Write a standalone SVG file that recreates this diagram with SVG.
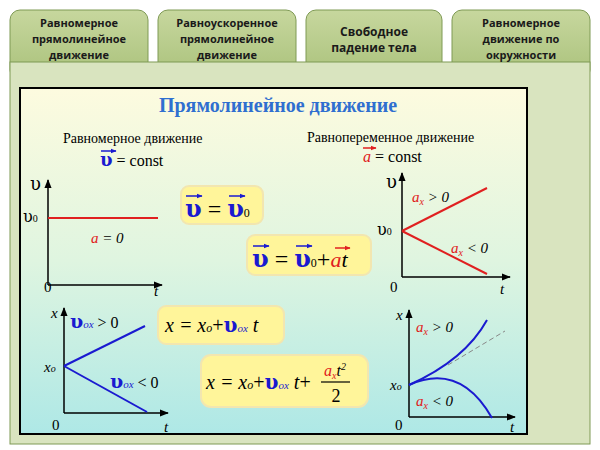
<svg xmlns="http://www.w3.org/2000/svg" width="600" height="450" viewBox="0 0 600 450">
<defs>
<linearGradient id="bg" x1="0" y1="0" x2="0" y2="1"><stop offset="0" stop-color="#fdfbdf"/><stop offset="0.5" stop-color="#dff5e0"/><stop offset="1" stop-color="#aee8e6"/></linearGradient>
<linearGradient id="tab" x1="0" y1="0" x2="0" y2="1"><stop offset="0" stop-color="#c7d79e"/><stop offset="1" stop-color="#a9c17a"/></linearGradient>
<marker id="ar" viewBox="0 0 10 10" refX="9" refY="5" markerWidth="6" markerHeight="6" orient="auto"><path d="M0,1 L10,5 L0,9 z" fill="#000"/></marker>
<marker id="va" viewBox="0 0 10 10" refX="9" refY="5" markerWidth="4" markerHeight="4" orient="auto"><path d="M0,1 L10,5 L0,9 z" fill="#1a1ad0"/></marker>
<marker id="ra" viewBox="0 0 10 10" refX="9" refY="5" markerWidth="4" markerHeight="4" orient="auto"><path d="M0,1 L10,5 L0,9 z" fill="#e02020"/></marker>
</defs>
<style>
.tabt{font-family:"Open Sans","Liberation Sans",sans-serif;font-size:11px;font-weight:bold;fill:#1a1a1a;text-anchor:middle}
.s{font-family:"Liberation Serif","DejaVu Serif",serif;fill:#000}
.u{font-family:"DejaVu Serif",serif;font-weight:bold;font-style:normal}
.v{fill:#1a1ad0}.r{fill:#e02020}
.i{font-style:italic}
.ax{stroke:#000;stroke-width:1.5;fill:none;marker-end:url(#ar)}
.box{fill:#fff59a;stroke:#f2e6b0;stroke-width:2}
</style>
<rect width="600" height="450" fill="#fff"/>
<g id="tabs">
<rect x="10" y="10" width="138" height="70" rx="10" fill="url(#tab)" stroke="#7f9a55"/>
<rect x="158" y="10" width="138" height="70" rx="10" fill="url(#tab)" stroke="#7f9a55"/>
<rect x="306" y="10" width="136" height="70" rx="10" fill="url(#tab)" stroke="#7f9a55"/>
<rect x="452" y="10" width="138" height="70" rx="10" fill="url(#tab)" stroke="#7f9a55"/>
</g>
<rect id="panel" x="10" y="62" width="580" height="382" fill="#d9e4bf" stroke="#7f9a55"/>
<g class="tabt">
<text x="79" y="27">Равномерное</text><text x="79" y="43">прямолинейное</text><text x="79" y="59">движение</text>
<text x="227" y="27">Равноускоренное</text><text x="227" y="43">прямолинейное</text><text x="227" y="59">движение</text>
<text x="374" y="36" style="font-size:12px">Свободное</text><text x="374" y="52" style="font-size:12px">падение тела</text>
<text x="521" y="27">Равномерное</text><text x="521" y="43">движение по</text><text x="521" y="59">окружности</text>
</g>
<rect x="20" y="88" width="507" height="346" fill="url(#bg)" stroke="#000" stroke-width="2"/>
<text class="s" x="278" y="112" text-anchor="middle" font-size="20" font-weight="bold" style="fill:#2f6fd0">Прямолинейное движение</text>
<text class="s" x="63" y="143" font-size="14">Равномерное движение</text>
<text class="s" x="100" y="166" font-size="16"><tspan class="v u" font-size="18">υ</tspan> = const</text>
<line x1="101" y1="151" x2="116" y2="151" stroke="#1a1ad0" stroke-width="1.5" marker-end="url(#va)"/>
<text class="s" x="307" y="142" font-size="14">Равнопеременное движение</text>
<text class="s" x="363" y="162" font-size="16"><tspan class="r i">a</tspan> = const</text>
<line x1="363" y1="148" x2="376" y2="148" stroke="#e02020" stroke-width="1.5" marker-end="url(#ra)"/>
<g id="g1">
<path class="ax" d="M48,285 V180"/><path class="ax" d="M48,285 H162"/>
<text class="s u" x="30" y="190" font-size="18" style="font-weight:normal">υ</text>
<text class="s" x="23" y="222" font-size="16"><tspan class="u" style="font-weight:normal">υ</tspan><tspan font-size="10">0</tspan></text>
<line x1="48" y1="218" x2="158" y2="218" stroke="#e02020" stroke-width="2"/>
<text class="s i" x="91" y="243" font-size="15"><tspan class="r">a</tspan> = 0</text>
<text class="s" x="44" y="292" font-size="15">0</text><text class="s i" x="154" y="296" font-size="15">t</text>
</g>
<g id="f1"><rect x="181" y="186" width="82" height="38" rx="8" class="box"/>
<text class="s" x="185" y="217" font-size="24"><tspan class="v u">υ</tspan> = <tspan class="v u">υ</tspan><tspan font-size="12">0</tspan></text></g>
<g id="f2"><rect x="247" y="235" width="124" height="40" rx="8" class="box"/>
<text class="s" x="252" y="267" font-size="24"><tspan class="v u">υ</tspan> = <tspan class="v u">υ</tspan><tspan font-size="12">0</tspan>+<tspan class="r i" font-size="22">a</tspan><tspan class="i" font-size="22">t</tspan></text></g>
<g id="arrowsf" stroke-width="1.5">
<line x1="186" y1="196" x2="202" y2="196" stroke="#1a1ad0" marker-end="url(#va)"/>
<line x1="229" y1="196" x2="245" y2="196" stroke="#1a1ad0" marker-end="url(#va)"/>
<line x1="253" y1="246" x2="269" y2="246" stroke="#1a1ad0" marker-end="url(#va)"/>
<line x1="296" y1="246" x2="312" y2="246" stroke="#1a1ad0" marker-end="url(#va)"/>
<line x1="335" y1="248" x2="350" y2="248" stroke="#e02020" marker-end="url(#ra)"/>
</g>
<g id="g2">
<path class="ax" d="M402,277 V173"/><path class="ax" d="M402,277 H510"/>
<text class="s u" x="386" y="188" font-size="18" style="font-weight:normal">υ</text>
<text class="s" x="377" y="235" font-size="16"><tspan class="u" style="font-weight:normal">υ</tspan><tspan font-size="10">0</tspan></text>
<line x1="402" y1="231" x2="487" y2="188" stroke="#e02020" stroke-width="2"/>
<line x1="402" y1="231" x2="487" y2="274" stroke="#e02020" stroke-width="2"/>
<text class="s i" x="412" y="202" font-size="15"><tspan class="r">a</tspan><tspan class="r" font-size="10" dy="3">x</tspan><tspan dy="-3"> &gt; 0</tspan></text>
<text class="s i" x="451" y="253" font-size="15"><tspan class="r">a</tspan><tspan class="r" font-size="10" dy="3">x</tspan><tspan dy="-3"> &lt; 0</tspan></text>
<text class="s" x="390" y="292" font-size="15">0</text><text class="s i" x="500" y="294" font-size="15">t</text>
</g>
<g id="g3">
<path class="ax" d="M64,413 V308"/><path class="ax" d="M64,413 H168"/>
<text class="s i" x="51" y="318" font-size="15">x</text>
<text class="s i" x="44" y="372" font-size="15">x<tspan font-size="10">o</tspan></text>
<line x1="64" y1="366" x2="145" y2="326" stroke="#1a1ad0" stroke-width="2"/>
<line x1="64" y1="366" x2="147" y2="412" stroke="#1a1ad0" stroke-width="2"/>
<text class="s" x="70" y="328" font-size="16"><tspan class="v u" font-size="19">υ</tspan><tspan class="v i" font-size="11">ox</tspan> &gt; 0</text>
<text class="s" x="110" y="388" font-size="16"><tspan class="v u" font-size="19">υ</tspan><tspan class="v i" font-size="11">ox</tspan> &lt;  0</text>
<text class="s" x="52" y="430" font-size="15">0</text><text class="s i" x="164" y="432" font-size="15">t</text>
</g>
<g id="f3"><rect x="158" y="306" width="126" height="38" rx="8" class="box"/>
<text class="s i" x="165" y="332" font-size="20">x = x<tspan font-size="12">o</tspan><tspan font-style="normal">+</tspan><tspan class="v u" font-size="20">υ</tspan><tspan class="v" font-size="11">ox</tspan> t</text></g>
<g id="f4"><rect x="201" y="355" width="167" height="52" rx="10" class="box"/>
<text class="s i" x="206" y="389" font-size="20">x = x<tspan font-size="12">o</tspan><tspan font-style="normal">+</tspan><tspan class="v u" font-size="20">υ</tspan><tspan class="v" font-size="11">ox</tspan> t<tspan font-style="normal">+</tspan></text>
<text class="s i" x="335" y="376" font-size="16" text-anchor="middle"><tspan class="r">a</tspan><tspan class="r" font-size="10" dy="3">x</tspan><tspan dy="-3">t</tspan><tspan font-size="10" dy="-6">2</tspan></text>
<line x1="321" y1="382" x2="350" y2="382" stroke="#000" stroke-width="1.2"/>
<text class="s" x="336" y="402" font-size="18" text-anchor="middle">2</text></g>
<g id="g4">
<path class="ax" d="M409,417 V310"/><path class="ax" d="M409,417 H515"/>
<text class="s i" x="396" y="320" font-size="15">x</text>
<text class="s i" x="390" y="390" font-size="15">x<tspan font-size="10">o</tspan></text>
<path d="M409,385 Q465,360 487,320" stroke="#1a1ad0" stroke-width="2" fill="none"/>
<path d="M409,385 Q460,362 492,418" stroke="#1a1ad0" stroke-width="2" fill="none"/>
<line x1="448" y1="365" x2="505" y2="331" stroke="#888" stroke-dasharray="5,3"/>
<text class="s i" x="416" y="332" font-size="15"><tspan class="r">a</tspan><tspan class="r" font-size="10" dy="3">x</tspan><tspan dy="-3"> &gt; 0</tspan></text>
<text class="s i" x="416" y="406" font-size="15"><tspan class="r">a</tspan><tspan class="r" font-size="10" dy="3">x</tspan><tspan dy="-3"> &lt; 0</tspan></text>
<text class="s" x="395" y="430" font-size="15">0</text><text class="s i" x="510" y="432" font-size="15">t</text>
</g>
</svg>
